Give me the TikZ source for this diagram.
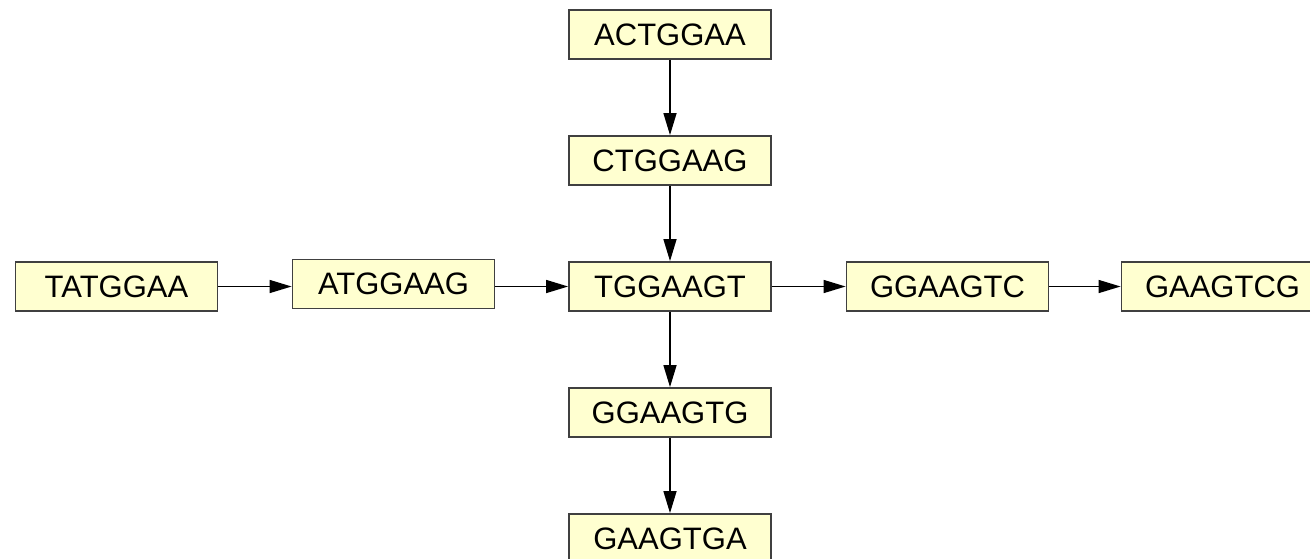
\documentclass[tikz,border=0pt]{standalone}
\usepackage{fontspec}
\setmainfont{Liberation Sans}
\usetikzlibrary{arrows.meta}
\definecolor{boxfill}{RGB}{255,255,208}
\definecolor{boxline}{RGB}{64,64,64}
\tikzset{
  kmer/.style={draw=boxline, line width=1.8pt, fill=boxfill, minimum width=202pt, minimum height=49pt, inner sep=0pt, font=\fontsize{31pt}{31pt}\selectfont},
  link/.style={line width=1.4pt, -{Triangle[length=22pt,width=13pt]}}
}
\begin{document}
\begin{tikzpicture}[x=1pt,y=-1pt]
\useasboundingbox (0,0) rectangle (1310,558);
\begin{scope}
\clip (0,0) rectangle (1310,558);
\node[kmer] (actggaa) at (670,34.5) {ACTGGAA};
\node[kmer] (ctggaag) at (670,160.5) {CTGGAAG};
\node[kmer] (tggaagt) at (670,286.5) {TGGAAGT};
\node[kmer] (ggaagtg) at (670,412.5) {GGAAGTG};
\node[kmer] (gaagtga) at (670,538.5) {GAAGTGA};
\node[kmer] (tatggaa) at (116.5,286.5) {TATGGAA};
\node[kmer] (atggaag) at (393.5,284) {ATGGAAG};
\node[kmer] (ggaagtc) at (947.5,286.5) {GGAAGTC};
\node[kmer] (gaagtcg) at (1222.5,286.5) {GAAGTCG};
\draw[link] (actggaa) -- (ctggaag);
\draw[link] (ctggaag) -- (tggaagt);
\draw[link] (tggaagt) -- (ggaagtg);
\draw[link] (ggaagtg) -- (gaagtga);
\draw[link] (tatggaa.east) -- (tatggaa.east -| atggaag.west);
\draw[link] (atggaag.east |- tggaagt.west) -- (tggaagt.west);
\draw[link] (tggaagt) -- (ggaagtc);
\draw[link] (ggaagtc) -- (gaagtcg);
\end{scope}
\end{tikzpicture}
\end{document}
